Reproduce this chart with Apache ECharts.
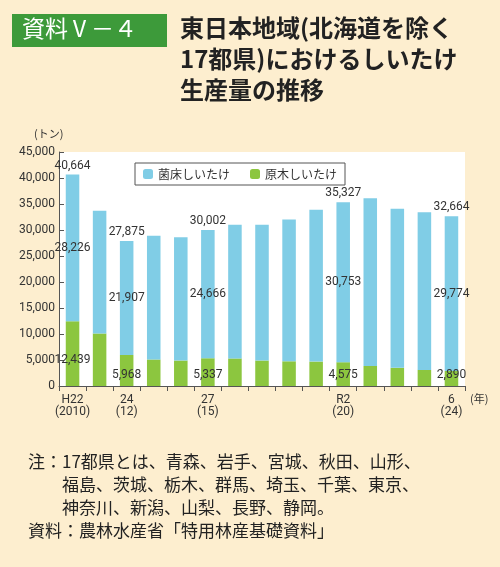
<!DOCTYPE html>
<html><head><meta charset="utf-8">
<script src="https://cdn.jsdelivr.net/npm/echarts@6/dist/echarts.min.js"></script>
<style>body{margin:0;background:#fdeecf}#c{width:500px;height:567px}</style>
</head><body><div id="c"></div>
<script>
// 年次 (2010-2024)
const years = ['H22\n(2010)', '', '24\n(12)', '', '', '27\n(15)', '', '', '', '', 'R2\n(20)', '', '', '', '6\n(24)'];
const kinsho = [28226, 23600, 21907, 23800, 23700, 24666, 25700, 26100, 27250, 29200, 30753, 32250, 30600, 30300, 29774];
const genboku = [12439, 10100, 5968, 5100, 4900, 5337, 5300, 4900, 4750, 4700, 4575, 3850, 3500, 3100, 2890];
const totals = [40664, 33700, 27875, 28900, 28600, 30002, 31000, 31000, 32000, 33900, 35327, 36100, 34100, 33400, 32664];
const labeled = [0, 2, 5, 10, 14];

const fmt = v => v.toLocaleString('en-US');
const F = '"Noto Sans CJK JP", sans-serif';
const lab = (i, pos, v, extra) => labeled.includes(i)
  ? Object.assign({ show: true, position: pos, formatter: fmt(v), color: '#333', fontSize: 12, fontFamily: 'Roboto' }, extra || {})
  : { show: false };

const chart = echarts.init(document.getElementById('c'));
chart.setOption({
  backgroundColor: '#fdeecf',
  animation: false,
  textStyle: { fontFamily: F },
  graphic: [
    { type: 'rect', left: 12, top: 14, shape: { width: 155, height: 33 }, style: { fill: '#3d9a3a' } },
    { type: 'text', left: 22, top: 17, style: { text: '資料Ⅴ－４', fill: '#fff', font: '23px ' + F } },
    { type: 'text', left: 180, top: 12, style: { text: '東日本地域(北海道を除く\n17都県)におけるしいたけ\n生産量の推移', fill: '#222', font: 'bold 24px ' + F, lineHeight: 31 } },
    { type: 'text', left: 34, top: 128, style: { text: '(トン)', fill: '#333', font: '11px ' + F } },
    { type: 'text', left: 470, top: 393, style: { text: '(年)', fill: '#333', font: '11px ' + F } },
    { type: 'text', left: 28, top: 450, style: { text: '注：17都県とは、青森、岩手、宮城、秋田、山形、\n　　福島、茨城、栃木、群馬、埼玉、千葉、東京、\n　　神奈川、新潟、山梨、長野、静岡。\n資料：農林水産省「特用林産基礎資料」', fill: '#222', font: '17px ' + F, lineHeight: 23 } }
  ],
  grid: { left: 59, right: 35, top: 152, bottom: 181, backgroundColor: '#fff', show: true, borderWidth: 0 },
  legend: {
    top: 163, left: 135, itemWidth: 10, itemHeight: 10, itemGap: 20,
    borderColor: '#555', borderWidth: 1, padding: [5, 8], backgroundColor: '#fff',
    textStyle: { fontSize: 12, color: '#333', fontFamily: F },
    data: ['菌床しいたけ', '原木しいたけ']
  },
  xAxis: {
    type: 'category', data: years,
    axisLine: { lineStyle: { color: '#555' } },
    axisTick: { show: true, alignWithLabel: false, length: 5, lineStyle: { color: '#555' } },
    axisLabel: { interval: 0, color: '#333', fontSize: 12, fontFamily: 'Roboto', lineHeight: 12 }
  },
  yAxis: {
    type: 'value', min: 0, max: 45000, interval: 5000,
    axisLine: { show: true, lineStyle: { color: '#555' } },
    axisTick: { show: true, inside: true, length: 5, lineStyle: { color: '#555' } },
    splitLine: { show: false },
    axisLabel: { formatter: v => fmt(v), color: '#333', fontSize: 12, fontFamily: 'Roboto', margin: 4 }
  },
  series: [
    { name: '原木しいたけ', type: 'bar', stack: 's', barWidth: '50%', itemStyle: { color: '#8cc63f' },
      data: genboku.map((v, i) => ({ value: v, label: lab(i, 'insideBottom', v, { distance: i === 0 ? 20 : 5 }) })) },
    { name: '菌床しいたけ', type: 'bar', stack: 's', itemStyle: { color: '#80cde6' },
      data: kinsho.map((v, i) => ({ value: v, label: lab(i, 'inside', v) })) },
    { name: '合計', type: 'bar', stack: 's', itemStyle: { color: 'transparent' },
      data: totals.map((v, i) => ({ value: 0, label: lab(i, 'top', v, { distance: 3 }) })) }
  ]
});
</script></body></html>
